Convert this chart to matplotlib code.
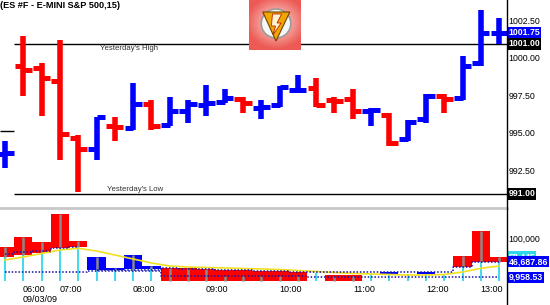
import matplotlib
matplotlib.use("Agg")
import matplotlib.pyplot as plt
import matplotlib.transforms as mtransforms
from matplotlib.patches import Circle, Polygon
from matplotlib.lines import Line2D
import numpy as np

plt.rcParams['font.family'] = ['Liberation Sans', 'DejaVu Sans']

# ES #F, 15 minute bars, 09/03/09
opens  = [993.65, 999.50, 999.40, 998.50, 994.75, 994.00, 995.55, 995.40, 997.00, 995.60,
          996.50, 996.90, 997.15, 997.30, 996.75, 996.90, 997.90, 998.05, 997.25, 997.30,
          996.50, 996.25, 994.65, 996.00, 997.50, 997.40, 999.75, 1001.75]
highs  = [994.50, 1001.50, 999.70, 1001.25, 994.90, 996.15, 996.15, 998.40, 997.25, 997.45,
          997.25, 998.25, 998.00, 997.45, 997.25, 998.20, 998.90, 998.70, 997.45, 998.00,
          996.70, 996.40, 995.90, 997.65, 997.65, 1000.20, 1003.25, 1002.75]
lows   = [992.70, 997.50, 996.20, 993.25, 991.15, 993.25, 994.50, 995.25, 995.25, 995.50,
          995.70, 996.20, 997.05, 996.40, 996.00, 996.80, 997.70, 996.80, 996.40, 996.00,
          995.50, 994.20, 994.50, 995.70, 996.40, 997.25, 999.50, 1001.00]
closes = [993.70, 999.25, 998.75, 995.00, 994.00, 996.10, 995.45, 997.00, 995.50, 996.50,
          997.00, 997.05, 997.40, 997.05, 996.80, 998.10, 997.95, 996.90, 997.20, 996.50,
          996.60, 994.40, 995.80, 997.50, 997.30, 999.50, 1001.75, 1001.75]

# volume panel (contracts)
vol_top  = [82400, 106200, 94300, 160200, 96700, 57100, 31700, 62600, 36400, 31000,
            30500, 29600, 28100, 27400, 25700, 24500, 22900, 19000, 15000, 15000,
            17400, 22900, 17400, 22900, 17400, 60200, 120500, 58400]
vol_base = [58600, 62600, 68100, 79300, 82400, 26900, 26900, 28600, 29300, 0,
            0, 0, 0, 0, 0, 0, 0, None, 0, 0,
            None, 17400, None, 17400, None, 34800, 46700, 46700]
vol_kind = "rrrrrbbbbrrrrrrrrwrrwbwbwrrr"
vol_line = [82400, 106200, 94300, 160200, 96700, 57100, 31700, 62600, 36400, 31000,
            30500, 29600, 12600, 12600, 12600, 12600, 12600, 19000, 12600, 12600,
            17400, 17400, 17400, 17400, 17400, 60200, 120500, 58400]
vol_yellow = [50700, 57900, 66200, 74500, 78600, 72100, 62600, 53100, 43600, 36400,
              34000, 32900, 31700, 30500, 29300, 28100, 25700, 23300, 21000, 18600,
              17400, 16200, 15000, 15000, 16200, 22100, 31000, 36400]
vol_avg_hi = [65000, 68600, 72100, 78100, 81700, 26900, 26900, 26900, 26900, 30500,
              29500, 28500, 27500, 26500, 25500, 24500, 23300, 22100, 22100, 22100,
              22100, 22100, 22100, 22100, 22100, 34800, 46700, 46700]
vol_avg_lo = [22900, 22900, 22900, 22900, 22900, 25700, 25700, 25700, 25700, 12600,
              12600, 12600, 12600, 12600, 12600, 12600, 12600, 10000, 10000, 10000,
              10000, 10000, 10000, 10000, 10000, 10000, 9960, 9960]

time_labels = ['06:00', '07:00', '08:00', '09:00', '10:00', '11:00', '12:00', '13:00']
time_pos = [1.58, 3.61, 7.6, 11.58, 15.63, 19.64, 23.63, 26.58]
date_label = '09/03/09'

price_ticks = [1002.5, 1000.0, 997.5, 995.0, 992.5]
yest_high = 1001.0
yest_low = 991.0
prior_close = 995.22
last_price = 1001.75

vol_ticks = [100000]
vol_last = 58445
vol_hi_last = 46687.86
vol_lo_last = 9958.53

RED = '#ff0000'
BLUE = '#0000ff'
W, H = 550.0, 305.0


def fbox(left, top, right, bottom):
    """pixel box -> figure rect"""
    return [left / W, 1 - bottom / H, (right - left) / W, (bottom - top) / H]


fig = plt.figure(figsize=(5.5, 3.05), dpi=100)
fig.patch.set_facecolor('white')

ax = fig.add_axes(fbox(0, 0, 507, 207))
vax = fig.add_axes(fbox(0, 209, 507, 283))
for a in (ax, vax):
    a.set_xlim(-0.273, 27.43)
    a.axis('off')
ax.set_ylim(990.13, 1003.93)
vax.set_ylim(-4000, 172000)

# price bars
x = np.arange(len(opens))
o = np.array(opens)
c = np.array(closes)
cols = np.where(c >= o, BLUE, RED)
ax.vlines(x, lows, highs, colors=cols, lw=4.0, capstyle='butt', zorder=3)
ax.hlines(o, x - 0.47, x, colors=cols, lw=3.6, capstyle='butt', zorder=3)
ax.hlines(c, x, x + 0.47, colors=cols, lw=3.6, capstyle='butt', zorder=3)

# reference lines
ax.hlines([yest_high, yest_low], 0.49, 27.43, color='black', lw=1.0, zorder=2)
ax.hlines(prior_close, -0.273, 0.49, color='black', lw=1.0, zorder=2)
ax.text(6.78, yest_high - 0.08, "Yesterday's High", ha='center', va='top',
        fontsize=5.6, color='#303030')
ax.text(7.1, yest_low + 0.08, "Yesterday's Low", ha='center', va='bottom',
        fontsize=5.6, color='#303030')

# right price scale
ty = ax.get_yaxis_transform()
lx = 1 + 1.5 / 507
for p in price_ticks:
    ax.text(lx, p, f'{p:.2f}', transform=ty, ha='left', va='center',
            fontsize=6.3, clip_on=False)
for p, bg in [(last_price, BLUE), (yest_high, 'black'), (yest_low, 'black')]:
    ax.text(lx, p, f'{p:.2f}', transform=ty, ha='left', va='center', fontsize=6.3,
            color='white', fontweight='bold', clip_on=False, zorder=5,
            bbox=dict(boxstyle='square,pad=0.12', fc=bg, ec='none'))

# volume blocks
for i in range(len(vol_top)):
    k = vol_kind[i]
    if k == 'w':
        vax.vlines(i, 0, vol_line[i], color='#30d8ec', lw=1.3, zorder=2)
        continue
    base = vol_base[i]
    vax.bar(i, vol_top[i] - base, bottom=base, width=1.0, lw=0,
            color=RED if k == 'r' else BLUE, zorder=1)
    if base > 0:
        vax.vlines(i, 0, base, color='#30d8ec', lw=1.3, zorder=2)
    vax.vlines(i, base, vol_line[i], color='#8a8a8a', lw=1.8, zorder=2)

vax.plot(x, vol_yellow, color='#f0e020', lw=1.2, zorder=3)
vax.plot(x[:5], vol_avg_hi[:5], color='#1010b0', lw=1.1, ls=(0, (1, 1.2)),
         drawstyle='steps-mid', zorder=4)
vax.plot(x[5:], vol_avg_hi[5:], color='#1010b0', lw=1.1, ls=(0, (1, 1.2)),
         drawstyle='steps-mid', zorder=4)
vax.plot(x, vol_avg_lo, color='#1010b0', lw=1.1, ls=(0, (1, 1.2)),
         drawstyle='steps-mid', zorder=4)

vty = vax.get_yaxis_transform()
for v in vol_ticks:
    vax.text(lx, v, f'{v:,.0f}', transform=vty, ha='left', va='center',
             fontsize=6.3, clip_on=False)
# current volume box sits partly behind the average box, as on the original
vax.text(lx, vol_last, f'{vol_last:,.0f}', transform=vty, ha='left', va='center',
         fontsize=6.3, color='white', fontweight='bold', clip_on=False, zorder=5,
         bbox=dict(boxstyle='square,pad=0.12', fc='#30d8ec', ec='none'))
for v in (vol_hi_last, vol_lo_last):
    vax.text(lx, v, f'{v:,.2f}', transform=vty, ha='left', va='center',
             fontsize=6.3, color='white', fontweight='bold', clip_on=False, zorder=6,
             bbox=dict(boxstyle='square,pad=0.12', fc=BLUE, ec='none'))

# time axis
tt = mtransforms.blended_transform_factory(vax.transData, fig.transFigure)
for pos, lab in zip(time_pos, time_labels):
    vax.text(pos, 1 - 289 / H, lab, transform=tt, ha='center', va='center',
             fontsize=6.5, clip_on=False)
vax.text(time_pos[0] - 0.6, 1 - 299 / H, date_label, transform=tt, ha='left',
         va='center', fontsize=6.5, clip_on=False)

# frame lines
fig.add_artist(Line2D([0, 507 / W], [1 - 208 / H] * 2, color='#c8c8c8', lw=2.0))
fig.add_artist(Line2D([507 / W] * 2, [0, 1], color='black', lw=1.0))

fig.text(0.0, 1 - 6 / H, '(ES #F - E-MINI S&P 500,15)', ha='left', va='center',
         fontsize=6.6, fontweight='bold')

# logo tile
lax = fig.add_axes(fbox(249, 0, 300, 50))
lax.set_xlim(0, 1)
lax.set_ylim(0, 1)
lax.axis('off')
gx, gy = np.meshgrid(np.linspace(0, 1, 60), np.linspace(1, 0, 60))
r = np.clip(np.hypot(gx - 0.53, (gy - 0.55) * 1.1) * 1.7, 0, 1)
img = np.dstack([np.ones_like(r) * 0.98 - 0.05 * r,
                 0.9 - 0.55 * r, 0.88 - 0.55 * r])
lax.imshow(img, extent=[0, 1, 0, 1], aspect='auto')
lax.add_patch(Circle((0.53, 0.53), 0.29, fc='#f6f6f6', ec='#9a9a9a', lw=1.2))
lax.add_patch(Polygon([(0.27, 0.76), (0.8, 0.76), (0.53, 0.18)], closed=True,
                      fc='#f0a800', ec='#704000', lw=0.8))
lax.add_patch(Polygon([(0.46, 0.72), (0.64, 0.72), (0.55, 0.54), (0.63, 0.54),
                       (0.47, 0.3), (0.52, 0.48), (0.44, 0.48)], closed=True,
                      fc='#fff4d0', ec='#c02000', lw=0.6))

fig.savefig('out.png', dpi=100)
